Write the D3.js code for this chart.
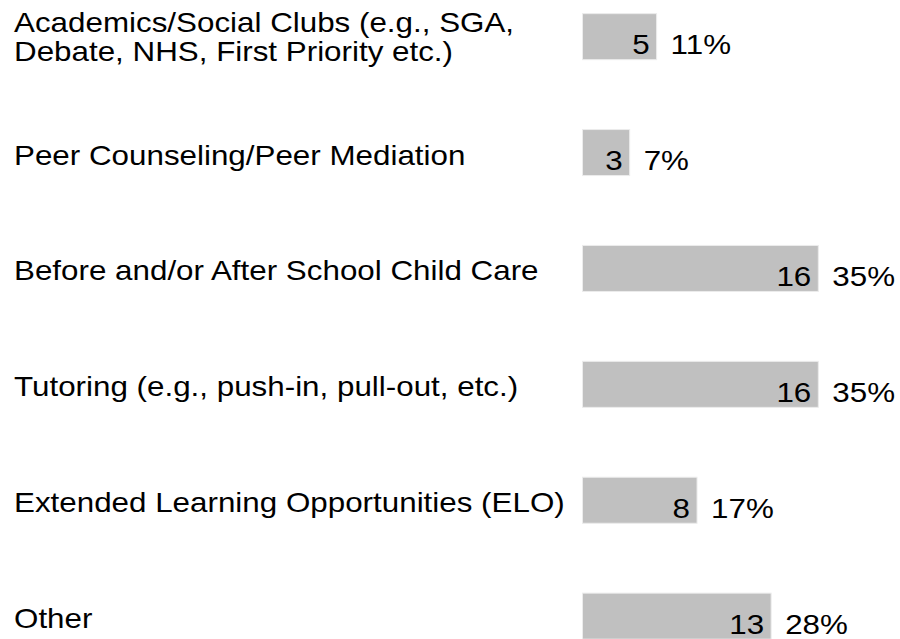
<!DOCTYPE html>
<html>
<head>
<meta charset="utf-8">
<script src="https://cdn.jsdelivr.net/npm/d3@7"></script>
<style>
  html, body { margin: 0; padding: 0; background: #ffffff; }
  svg { display: block; }
  text { font-family: "Liberation Sans", Arial, sans-serif; fill: #000; }
</style>
</head>
<body>
<svg id="chart" width="900" height="639"></svg>
<script>
const categories = [
  ["Academics/Social Clubs (e.g., SGA,", "Debate, NHS, First Priority etc.)"],
  ["Peer Counseling/Peer Mediation"],
  ["Before and/or After School Child Care"],
  ["Tutoring (e.g., push-in, pull-out, etc.)"],
  ["Extended Learning Opportunities (ELO)"],
  ["Other"]
];
const counts = [5, 3, 16, 16, 8, 13];
const percents = [11, 7, 35, 35, 17, 28];

const svg = d3.select("#chart");
const keys = categories.map((c, i) => i);

const SX = 1.12; // horizontal text stretch seen in the reference
const x = d3.scaleLinear().domain([0, 35]).range([582.5, 818.3]);
const y = d3.scaleBand().domain(keys).range([-21.3, 674.1]).padding(0);
const barH = 46;
const cy = i => y(i) + y.bandwidth() / 2;

const g = svg.append("g");

// bars
g.selectAll("rect.bar").data(keys).join("rect")
  .attr("class", "bar")
  .attr("x", x(0))
  .attr("y", i => cy(i) - barH / 2)
  .attr("width", i => x(percents[i]) - x(0))
  .attr("height", barH)
  .attr("fill", "#c0c0c0")
  .attr("stroke", "#ececec")
  .attr("stroke-width", 1);

// count labels inside bars
g.selectAll("text.count").data(keys).join("text")
  .attr("class", "count")
  .attr("transform", i => `translate(${x(percents[i]) - 7},${cy(i) + 17.5}) scale(${SX},1)`)
  .attr("text-anchor", "end")
  .style("font-size", "28px")
  .text(i => counts[i]);

// percent labels
g.selectAll("text.pct").data(keys).join("text")
  .attr("class", "pct")
  .attr("transform", i => `translate(${x(percents[i]) + 14},${cy(i) + 17.5}) scale(${SX},1)`)
  .style("font-size", "28px")
  .text(i => percents[i] + "%");

// category labels (one text per line)
const lines = [];
categories.forEach((c, i) => c.forEach((t, j) => lines.push({ i, j, n: c.length, t })));
g.selectAll("text.cat").data(lines).join("text")
  .attr("class", "cat")
  .attr("transform", d => `translate(14,${cy(d.i) + 12 - (d.n - 1) * 1.7 + (d.j - (d.n - 1) / 2) * 29}) scale(${SX},1)`)
  .style("font-size", "28px")
  .text(d => d.t);
</script>
</body>
</html>
